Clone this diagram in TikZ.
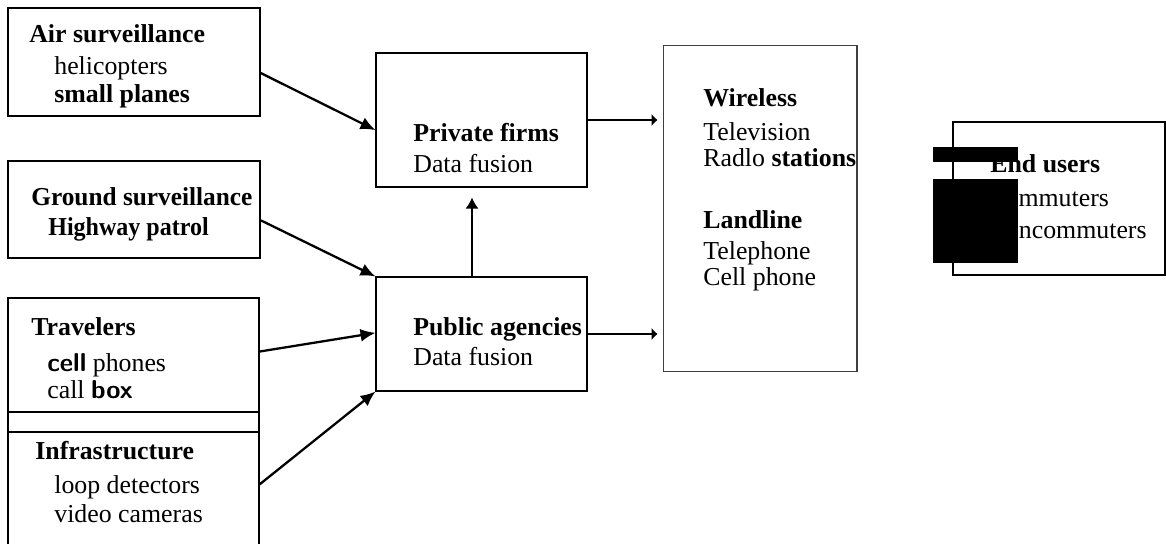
\documentclass[tikz,border=0pt]{standalone}
\usepackage{fontspec}
\setmainfont{Liberation Serif}
\usetikzlibrary{arrows.meta,calc,positioning}

\tikzset{
  box/.style={draw,line width=0.6pt,inner sep=0pt},
  txt/.style={anchor=base west,inner sep=0pt},
  feed/.style={line width=1.3pt,-{Latex[length=3mm,width=2.6mm]}},
  lift/.style={line width=0.9pt,-{Latex[length=2.2mm,width=2.6mm]}},
  pass/.style={line width=0.9pt,-{Latex[length=1.2mm,width=2.6mm]}}
}

\begin{document}
\begin{tikzpicture}[x=0.02cm,y=-0.02cm,>=Latex,
    font=\fontsize{14.7}{17}\selectfont]
  \useasboundingbox (0,0) rectangle (1166,544);

  % Sources on the left; the bottom box runs off the page.
  \node[box,minimum width=5.04cm,minimum height=2.16cm] (air) at (134,62) {};
  \node[box,minimum width=5.04cm,minimum height=1.94cm,line width=1pt] (ground) at (134,209.5) {};
  \node[box,minimum width=5.02cm,minimum height=2.28cm] (trav) at (133.5,355) {};
  \node[box,minimum width=5.02cm,minimum height=0.40cm] (strip) at (133.5,422) {};
  \node[box,minimum width=5.02cm,minimum height=2.56cm] (infra) at (133.5,496) {};

  % Fusion centres and media.
  \node[box,minimum width=4.22cm,minimum height=2.68cm] (priv) at (481.5,120) {};
  \node[box,minimum width=4.22cm,minimum height=2.28cm] (pub) at (481.5,334) {};
  \node[box,minimum width=3.88cm,minimum height=6.54cm,draw=black!75] (media) at (760,208.5) {};
  \node[box,minimum width=4.24cm,minimum height=3.06cm,line width=1pt] (users) at (1059,198.5) {};

  % Box texts.
  \node[txt] (airA) at (29,43) {\textbf{Air surveillance}};
  \node[txt] (airB) at (54,75) {helicopters};
  \node[txt] (airC) at (54,103) {\textbf{small planes}};
  \node[txt] (grdA) at (31,205) {\scalebox{0.98}[1]{\textbf{Ground surveillance}}};
  \node[txt] (grdB) at (48,235) {\scalebox{0.93}[1]{\textbf{Highway patrol}}};
  \node[txt] (travA) at (31,335) {\textbf{Travelers}};
  \node[txt] (travB) at (47,371) {\textsf{\bfseries cell} phones};
  \node[txt] (travC) at (47,398) {call \textsf{\bfseries box}};
  \node[txt] (infA) at (35,459) {\textbf{Infrastructure}};
  \node[txt] (infB) at (54,493) {loop detectors};
  \node[txt] (infC) at (54,522) {video cameras};

  \node[txt] (privA) at (413,141) {\textbf{Private firms}};
  \node[txt] (privB) at (413,173) {Data fusion};
  \node[txt] (pubA) at (413,335) {\textbf{Public agencies}};
  \node[txt] (pubB) at (413,365) {Data fusion};

  \node[txt] (medA) at (703,107) {\textbf{Wireless}};
  \node[txt] (medB) at (703,140) {Television};
  \node[txt] (medC) at (703,166) {Radlo \textbf{stations}};
  \node[txt] (medD) at (703,228) {\textbf{Landline}};
  \node[txt] (medE) at (703,259) {Telephone};
  \node[txt] (medF) at (703,285) {Cell phone};

  \node[txt] (usrA) at (990,173) {\textbf{End users}};
  \node[txt] (usrB) at (988,206) {Commuters};
  \node[txt] (usrC) at (987,238) {Noncommuters};

  % Blacked-out patches over the end-user labels.
  \fill (933,147) rectangle (1018,162);
  \fill (933,179) rectangle (1018,263);

  % Data flows.
  \draw[feed] ($(air.north east)!0.6!(air.south east)$)
    -- ($(priv.north west)!0.575!(priv.south west)$);
  \draw[feed] ($(ground.north east)!0.61!(ground.south east)$) -- (pub.north west);
  \draw[feed] ($(trav.north east)!0.47!(trav.south east)$)
    -- ($(pub.north west)!0.49!(pub.south west)$);
  \draw[feed] ($(infra.north east)+(0,53)$) -- (pub.south west);
  \draw[lift] ($(pub.north)+(-9.5,0)$) -- ($(priv.south)+(-9.5,10)$);
  \draw[pass] (priv.east) -- ($(priv.east -| media.west)+(-5,0)$);
  \draw[pass] (pub.east) -- ($(pub.east -| media.west)+(-5,0)$);
\end{tikzpicture}
\end{document}
